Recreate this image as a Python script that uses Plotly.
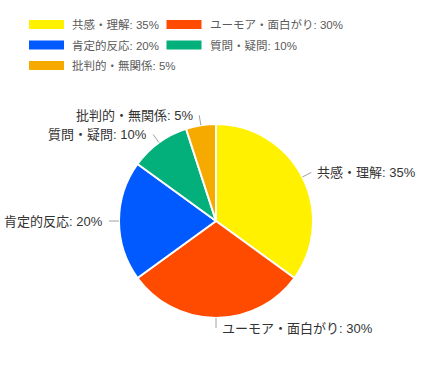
import math
import plotly.graph_objects as go

labels = ["共感・理解", "ユーモア・面白がり", "肯定的反応", "質問・疑問", "批判的・無関係"]
values = [35, 30, 20, 10, 5]
colors = ["#FFF100", "#FF4B00", "#005AFF", "#03AF7A", "#F6AA00"]

W, H = 431, 371
FONT = "Liberation Sans, Noto Sans CJK JP, sans-serif"

def px(x):
    return x / W

def py(y):
    return 1 - y / H

# pie geometry (pixels)
cx, cy, R = 216, 221, 97

fig = go.Figure()
fig.add_trace(go.Pie(
    labels=labels, values=values, sort=False, direction="clockwise", rotation=0,
    marker=dict(colors=colors, line=dict(color="#ffffff", width=2)),
    textinfo="none", hoverinfo="label+percent", showlegend=False,
    domain=dict(x=[px(cx - R), px(cx + R)], y=[py(cy + R), py(cy - R)]),
))

shapes = []
annotations = []
total = sum(values)
acc = 0
for lab, v in zip(labels, values):
    mid = (acc + v / 2) / total * 2 * math.pi
    acc += v
    s, c = math.sin(mid), -math.cos(mid)
    x0, y0 = cx + R * s, cy + R * c
    x1, y1 = cx + (R + 10) * s, cy + (R + 10) * c
    shapes.append(dict(type="line", xref="paper", yref="paper",
                       x0=px(x0), y0=py(y0), x1=px(x1), y1=py(y1),
                       line=dict(color="#a0a0a0", width=1)))
    left = s < -1e-9
    tx = x1 - 4 if left else x1 + 4
    annotations.append(dict(
        x=px(tx), y=py(y1), xref="paper", yref="paper",
        text=f"{lab}: {v}%", showarrow=False,
        xanchor="right" if left else "left", yanchor="middle",
        font=dict(family=FONT, size=13, color="#333333"),
    ))

# legend (two columns, wrapping)
col_x = [29, 166.5]
row_y0, row_dy = 24.5, 20.5
for i, (lab, v, col) in enumerate(zip(labels, values, colors)):
    r, k = divmod(i, 2)
    lx = col_x[k]
    ly = row_y0 + r * row_dy
    shapes.append(dict(type="rect", xref="paper", yref="paper",
                       x0=px(lx), x1=px(lx + 35), y0=py(ly + 4.5), y1=py(ly - 4.5),
                       fillcolor=col, line=dict(width=0)))
    annotations.append(dict(
        x=px(lx + 41), y=py(ly), xref="paper", yref="paper",
        text=f"{lab}: {v}%", showarrow=False, xanchor="left", yanchor="middle",
        font=dict(family=FONT, size=11.5, color="#5a5a5a"),
    ))

fig.update_layout(
    width=W, height=H, margin=dict(l=0, r=0, t=0, b=0),
    paper_bgcolor="#ffffff", plot_bgcolor="#ffffff",
    shapes=shapes, annotations=annotations, showlegend=False,
)

fig.write_html("out.html")
